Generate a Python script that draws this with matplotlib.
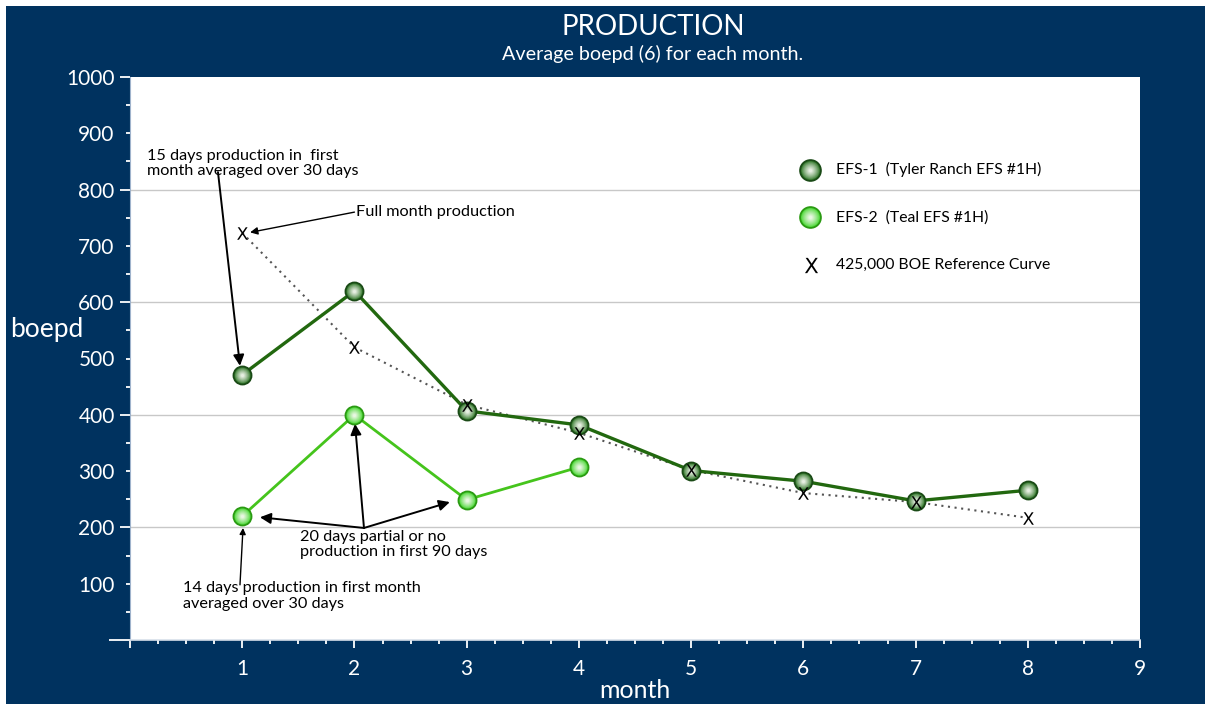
"""
Monthly production plot for the two EFS wells against the reference curve.
"""
import numpy as np
import matplotlib
matplotlib.use('Agg')
import matplotlib.pyplot as plt
from matplotlib.colors import to_rgb
from matplotlib.patches import Rectangle

plt.rcParams['font.family'] = ['Lato', 'DejaVu Sans']

NAVY = '#00325f'

# monthly averages (boepd)
months_efs1 = [1, 2, 3, 4, 5, 6, 7, 8]
boepd_efs1 = [471, 620, 407, 382, 301, 282, 247, 266]

months_efs2 = [1, 2, 3, 4]
boepd_efs2 = [220, 400, 249, 307]

months_ref = [1, 2, 3, 4, 5, 6, 7, 8]
boepd_ref = [723, 520, 418, 368, 302, 261, 245, 217]

x_ticks = [0, 1, 2, 3, 4, 5, 6, 7, 8, 9]
y_ticks = [0, 100, 200, 300, 400, 500, 600, 700, 800, 900, 1000]


def draw_balls(ax, xs, ys, edge, body, size=13, steps=9, zorder=5):
    """Fake a shaded sphere by stacking shrinking circles from body colour to near white."""
    ax.plot(xs, ys, 'o', ms=size, mfc=body, mec=edge, mew=1.3, ls='none', zorder=zorder)
    c0 = np.array(to_rgb(body))
    c1 = np.array([0.97, 0.98, 0.95])
    for i in range(1, steps):
        t = i / steps
        col = c0 + (c1 - c0) * t ** 0.8
        ax.plot(xs, ys, 'o', ms=(size - 2) * (1 - t) + 1.0, mfc=col, mec='none',
                ls='none', zorder=zorder + i * 0.01)


fig = plt.figure(figsize=(12.05, 7.04), dpi=100, facecolor='white')
fig.patches.append(Rectangle((6 / 1205, 0), 1, 1 - 6 / 704, transform=fig.transFigure,
                             facecolor=NAVY, edgecolor='none', zorder=-10))

ax = fig.add_axes([130 / 1205, 64 / 704, 1010 / 1205, 563 / 704])
ax.set_facecolor('white')
ax.set_xlim(0, 9)
ax.set_ylim(0, 1000)

# horizontal grid
for g in [200, 400, 600, 800]:
    ax.axhline(g, color='#c8c8c8', lw=1, zorder=1)

# reference curve
ax.plot(months_ref, boepd_ref, color='#555555', lw=1.5, ls=(0, (1, 2.2)), zorder=3)

# wells
ax.plot(months_efs1, boepd_efs1, color='#22680f', lw=2.4, zorder=4)
ax.plot(months_efs2, boepd_efs2, color='#45c41c', lw=2.0, zorder=4)
draw_balls(ax, months_efs1, boepd_efs1, '#1a4a16', '#367a2e')
draw_balls(ax, months_efs2, boepd_efs2, '#2a9a12', '#4fd83a')

xmark = r'$\mathsf{X}$'
ax.plot(months_ref, boepd_ref, ls='none', marker=xmark, ms=9, mew=0, color='black', zorder=8)

# legend
draw_balls(ax, [6.06], [835], '#1a4a16', '#367a2e', size=15)
draw_balls(ax, [6.06], [751], '#2a9a12', '#4fd83a', size=15)
ax.plot([6.07], [666], ls='none', marker=xmark, ms=11, mew=0, color='black')
leg_font = dict(fontsize=11.3, color='black', va='center', ha='left')
ax.text(6.29, 835, 'EFS-1  (Tyler Ranch EFS #1H)', **leg_font)
ax.text(6.29, 751, 'EFS-2  (Teal EFS #1H)', **leg_font)
ax.text(6.29, 666, '425,000 BOE Reference Curve', **leg_font)

# notes
note = dict(fontsize=11.7, color='black', ha='left', va='top', linespacing=1.12)
arrow = dict(arrowstyle='-|>', color='black', lw=1.4, mutation_scale=16, shrinkA=0, shrinkB=0)
ax.text(0.151, 873, '15 days production in  first\nmonth averaged over 30 days', **note)
ax.annotate('', xy=(0.98, 487), xytext=(0.784, 831), arrowprops=arrow)

ax.text(2.014, 760, 'Full month production', fontsize=11.7, color='black', ha='left', va='center')
ax.annotate('', xy=(1.07, 724), xytext=(2.0, 760),
            arrowprops=dict(arrow, lw=1.0, mutation_scale=11))

ax.text(1.515, 196, '20 days partial or no\nproduction in first 90 days', **note)
for tx, ty in [(2.005, 384), (1.158, 218), (2.85, 245)]:
    ax.annotate('', xy=(tx, ty), xytext=(2.085, 199), arrowprops=arrow)

ax.text(0.472, 104, '14 days production in first month\naveraged over 30 days', **note)
ax.annotate('', xy=(1.007, 199), xytext=(0.98, 98),
            arrowprops=dict(arrow, lw=1.0, mutation_scale=9))

# axes styling
for s in ['top', 'right']:
    ax.spines[s].set_visible(False)
ax.spines['left'].set_color('#9fb3cc')
ax.spines['bottom'].set_color('#d8e0ea')
ax.spines['bottom'].set_linewidth(1.2)

ax.set_xticks(x_ticks)
ax.set_xticklabels([''] + [str(v) for v in x_ticks[1:]])
ax.set_xticks(np.arange(0, 9.01, 0.25), minor=True)
ax.set_yticks(y_ticks)
ax.set_yticklabels([''] + [str(v) for v in y_ticks[1:]])
ax.set_yticks(np.arange(0, 1001, 50), minor=True)
ax.tick_params(axis='x', which='major', direction='out', length=6, width=1.3, colors='white',
               labelsize=15, pad=8)
ax.tick_params(axis='x', which='minor', direction='out', length=3, width=1.3, color='white')
ax.tick_params(axis='y', which='major', direction='out', length=7, width=1.3, colors='white',
               labelsize=15, pad=4)
ax.tick_params(axis='y', which='minor', direction='out', length=3, width=1.3, color='white')
for val, tick in zip(y_ticks, ax.yaxis.get_major_ticks()):
    if val == 0:
        tick.tick1line.set_markersize(15)
    elif val % 200:
        tick.tick1line.set_markersize(3)

ax.set_xlabel('month', fontsize=18, color='white', labelpad=0)
fig.text(10 / 1205, 1 - 330 / 704, 'boepd', fontsize=19, color='white', ha='left', va='center')

fig.text(653 / 1205, 1 - 27 / 704, 'PRODUCTION', fontsize=20, color='white', ha='center', va='center')
fig.text(653 / 1205, 1 - 54 / 704, 'Average boepd (6) for each month.', fontsize=14.2,
         color='white', ha='center', va='center')

fig.savefig('out.png', dpi=100, facecolor=fig.get_facecolor())
